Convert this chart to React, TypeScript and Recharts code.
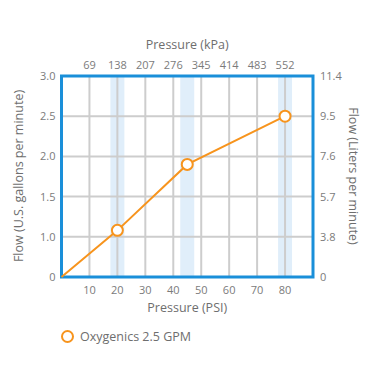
import {
  CartesianGrid,
  Label,
  Line,
  LineChart,
  ReferenceArea,
  XAxis,
  YAxis,
} from "recharts";

const BLUE = "#1a8fd9";
const BAND = "#e0eefa";
const GRID = "#cdcdcd";
const ORANGE = "#f7941d";
const TICK = "#7b7b7b";
const TITLE = "#6e6e6e";
const FONT = "'Open Sans', sans-serif";

// bottom axis (PSI) and its top twin (kPa)
const PSI_TICKS = [10, 20, 30, 40, 50, 60, 70, 80];
const KPA_LABELS = ["69", "138", "207", "276", "345", "414", "483", "552"];

// the flow axes are evenly spaced steps, not a linear scale
const FLOW_STEPS = [0, 1, 2, 3, 4, 5];
const GPM_LABELS = ["0", "1.0", "1.5", "2.0", "2.5", "3.0"];
const LPM_LABELS = ["0", "3.8", "5.7", "7.6", "9.5", "11.4"];

// series
const PSI = [0, 20, 45, 80];
const GPM = [0, 1.08, 1.9, 2.5];

// highlighted test pressures
const BAND_CENTERS = [20, 45, 80];

// gpm -> step position (0..1.0 is one step, then 0.5 per step)
function gpmToStep(v: number): number {
  return v <= 1 ? v : 1 + (v - 1) / 0.5;
}

const data = PSI.map((psi, i) => ({ psi, gpm: GPM[i], step: gpmToStep(GPM[i]) }));

function FlowDot(props: any) {
  const { cx, cy, index } = props;
  if (index === 0) return <g key={`d${index}`} />;
  return (
    <circle
      key={`d${index}`}
      cx={cx}
      cy={cy}
      r={5.5}
      fill="#fff"
      stroke={ORANGE}
      strokeWidth={2}
    />
  );
}

function Title({ x, y, angle, text }: { x: number; y: number; angle: number; text: string }) {
  return (
    <text
      x={x}
      y={y}
      transform={`rotate(${angle}, ${x}, ${y})`}
      textAnchor="middle"
      dominantBaseline="central"
      fill={TITLE}
      fontSize={12.5}
      fontFamily={FONT}
    >
      {text}
    </text>
  );
}

const tickStyle = { fontSize: 11, fill: TICK, fontFamily: FONT };

export default function App() {
  return (
    <div style={{ position: "absolute", left: 0, top: 0, width: 370, height: 386, background: "#fff" }}>
      <LineChart
        width={370}
        height={386}
        data={data}
        margin={{ top: 46, right: 12, bottom: 79, left: 16.5 }}
      >
        {BAND_CENTERS.map((c) => (
          <ReferenceArea
            key={c}
            xAxisId="psi"
            yAxisId="gpm"
            x1={c - 2.5}
            x2={c + 2.5}
            y1={0}
            y2={5}
            fill={BAND}
            fillOpacity={1}
            stroke="none"
            zIndex={-150}
          />
        ))}
        <CartesianGrid xAxisId="psi" yAxisId="gpm" stroke={GRID} strokeWidth={2} />
        <XAxis
          xAxisId="psi"
          dataKey="psi"
          type="number"
          domain={[0, 90]}
          ticks={PSI_TICKS}
          tick={tickStyle}
          tickSize={0}
          tickMargin={9}
          axisLine={false}
          height={30}
        >
          <Label content={() => <Title x={187.25} y={307} angle={0} text="Pressure (PSI)" />} />
        </XAxis>
        <XAxis
          xAxisId="kpa"
          dataKey="psi"
          orientation="top"
          type="number"
          domain={[0, 90]}
          ticks={PSI_TICKS}
          tickFormatter={(v: number) => KPA_LABELS[PSI_TICKS.indexOf(v)]}
          tick={tickStyle}
          tickSize={0}
          tickMargin={7}
          axisLine={false}
          height={30}
        >
          <Label content={() => <Title x={187.25} y={44} angle={0} text="Pressure (kPa)" />} />
        </XAxis>
        <YAxis
          yAxisId="gpm"
          type="number"
          domain={[0, 5]}
          ticks={FLOW_STEPS}
          tickFormatter={(v: number) => GPM_LABELS[v]}
          tick={tickStyle}
          tickSize={0}
          tickMargin={6}
          axisLine={false}
          width={45}
        >
          <Label
            content={() => (
              <Title x={18} y={176} angle={-90} text="Flow (U.S. gallons per minute)" />
            )}
          />
        </YAxis>
        <YAxis
          yAxisId="lpm"
          orientation="right"
          type="number"
          domain={[0, 5]}
          ticks={FLOW_STEPS}
          tickFormatter={(v: number) => LPM_LABELS[v]}
          tick={tickStyle}
          tickSize={0}
          tickMargin={7}
          axisLine={false}
          width={45}
        >
          <Label
            content={() => <Title x={353} y={176} angle={90} text="Flow (Liters per minute)" />}
          />
        </YAxis>
        {/* invisible twin so the kPa / L/min axes get scaled */}
        <Line
          xAxisId="kpa"
          yAxisId="lpm"
          dataKey="step"
          stroke="none"
          dot={false}
          activeDot={false}
          legendType="none"
          isAnimationActive={false}
        />
        <Line
          xAxisId="psi"
          yAxisId="gpm"
          dataKey="step"
          type="linear"
          stroke={ORANGE}
          strokeWidth={2}
          dot={FlowDot}
          activeDot={false}
          isAnimationActive={false}
        />
        <ReferenceArea
          xAxisId="psi"
          yAxisId="gpm"
          x1={0}
          x2={90}
          y1={0}
          y2={5}
          fill="none"
          stroke={BLUE}
          strokeWidth={3}
          ifOverflow="visible"
        />
      </LineChart>
      <div
        style={{
          position: "absolute",
          left: 60,
          top: 328,
          display: "flex",
          alignItems: "center",
          fontFamily: FONT,
          fontSize: 12.5,
          color: TITLE,
        }}
      >
        <svg width={15} height={15} style={{ marginRight: 5 }}>
          <circle cx={7.5} cy={7.5} r={5.5} fill="#fff" stroke={ORANGE} strokeWidth={2} />
        </svg>
        <span>Oxygenics 2.5 GPM</span>
      </div>
    </div>
  );
}
